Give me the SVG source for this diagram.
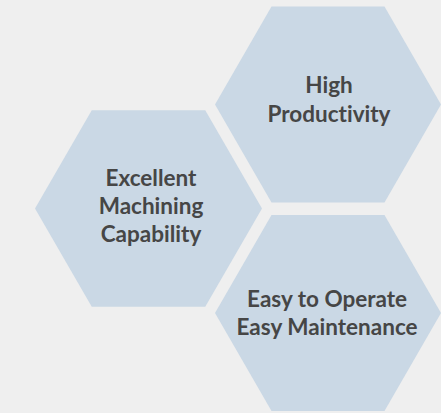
<svg xmlns="http://www.w3.org/2000/svg" width="441" height="413" viewBox="0 0 441 413">
<style>
.hex{fill:#cad8e5;}
.lbl{font-family:Lato,"Open Sans","Liberation Sans",sans-serif;font-weight:700;font-size:22.5px;fill:#464646;text-anchor:middle;font-variant-ligatures:none;}
</style>
<rect width="441" height="413" fill="#efefef"/>
<g id="connectors"></g>
<g id="node-productivity">
<polygon class="hex" points="215,104.5 271.5,6.6 384.5,6.6 441,104.5 384.5,202.4 271.5,202.4"/>
<text class="lbl" x="329" y="93.3">High</text>
<text class="lbl" x="329" y="121.7">Productivity</text>
</g>
<g id="node-machining">
<polygon class="hex" points="35,208.5 91.75,110.2 205.25,110.2 262,208.5 205.25,306.8 91.75,306.8"/>
<text class="lbl" x="151" y="186">Excellent</text>
<text class="lbl" x="151" y="214.2">Machining</text>
<text class="lbl" x="151" y="241.8">Capability</text>
</g>
<g id="node-operate">
<polygon class="hex" points="215,313 271.5,215.1 384.5,215.1 441,313 384.5,410.9 271.5,410.9"/>
<text class="lbl" x="327" y="306.7">Easy to Operate</text>
<text class="lbl" x="327" y="335">Easy Maintenance</text>
</g>
</svg>
